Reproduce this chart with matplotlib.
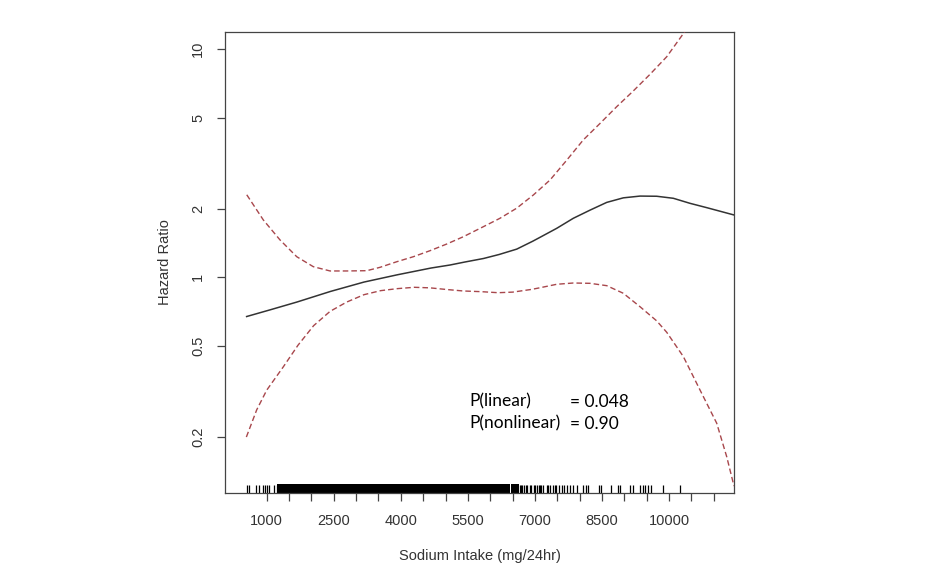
import numpy as np
import matplotlib
matplotlib.use('Agg')
import matplotlib.pyplot as plt
from matplotlib.ticker import FixedLocator, FixedFormatter, NullLocator

# =====================================================================
# DATA
# =====================================================================
# central spline estimate
hr_x = [550, 1075, 1675, 2425, 3175, 3925, 4675, 5100, 5425, 5850, 6200,
        6593, 6950, 7114, 7487, 7859, 8232, 8606, 8977, 9351, 9724, 10096,
        10469, 10843, 11454]
hr_y = [0.674, 0.721, 0.78, 0.868, 0.954, 1.027, 1.099, 1.133, 1.167, 1.21,
        1.26, 1.33, 1.44, 1.498, 1.64, 1.815, 1.97, 2.13, 2.23, 2.27, 2.266,
        2.22, 2.11, 2.02, 1.876]

# upper 95% CI
upper_x = [553, 924, 1298, 1671, 2042, 2416, 2790, 3237, 3535, 3908, 4280,
           4653, 5027, 5398, 5845, 6218, 6593, 6964, 7338, 7711, 8082, 8455,
           8829, 9200, 9575, 9948, 10342, 10450]
upper_y = [2.30, 1.784, 1.458, 1.232, 1.114, 1.067, 1.067, 1.070, 1.107,
           1.171, 1.232, 1.309, 1.40, 1.507, 1.667, 1.815, 2.01, 2.295, 2.67,
           3.26, 4.0, 4.72, 5.59, 6.55, 7.75, 9.25, 11.84, 12.6]

# lower 95% CI
lower_x = [544, 775, 1000, 1371, 1700, 2050, 2416, 2790, 3175, 3550, 3925,
           4300, 4653, 5027, 5398, 5800, 6175, 6500, 6925, 7114, 7487, 7859,
           8232, 8606, 8977, 9351, 9724, 9948, 10320, 10694, 11066, 11290,
           11453]
lower_y = [0.20, 0.263, 0.321, 0.406, 0.505, 0.615, 0.71, 0.78, 0.84, 0.875,
           0.893, 0.905, 0.90, 0.885, 0.872, 0.866, 0.857, 0.862, 0.886, 0.901,
           0.933, 0.945, 0.942, 0.92, 0.852, 0.744, 0.645, 0.575, 0.45, 0.321,
           0.23, 0.164, 0.122]

# rug of observed intakes: dense band and individual observations
rug_dense = [1300, 1400, 1500, 1600, 1700, 1800, 1900, 2000, 2100, 2200,
             2300, 2400, 2500, 2600, 2700, 2800, 2900, 3000, 3100, 3200,
             3300, 3400, 3500, 3600, 3700, 3800, 3900, 4000, 4100, 4200,
             4300, 4400, 4500, 4600, 4700, 4800, 4900, 5000, 5100, 5200,
             5300, 5400, 5500, 5600, 5700, 5800, 5900, 6000, 6100, 6200,
             6300, 6370, 6540, 6580]
rug_single = [553, 611, 761, 834, 924, 969, 1013, 1058, 1170, 1224, 1250,
              6660, 6690, 6720, 6760, 6790, 6815, 6880, 6920, 6970, 7000,
              7050, 7080, 7110, 7140, 7170, 7270, 7300, 7330, 7415, 7445,
              7480, 7540, 7600, 7650, 7720, 7785, 7860, 7950, 8080, 8140,
              8190, 8440, 8485, 8695, 8850, 8900, 9130, 9200, 9350, 9410,
              9470, 9530, 9600, 9870, 10240]

y_ticks = [0.2, 0.5, 1, 2, 5, 10]
y_tick_labels = ['0.2', '0.5', '1', '2', '5', '10']
x_ticks = list(range(1000, 11001, 500))
x_tick_labels = [str(t) if (t - 1000) % 1500 == 0 else '' for t in x_ticks]

p_labels = ['P(linear)', 'P(nonlinear)']
p_values = ['= 0.048', '= 0.90']

# =====================================================================
# PLOT
# =====================================================================
plt.rcParams['font.family'] = ['Liberation Sans', 'DejaVu Sans']
fig = plt.figure(figsize=(9.4, 5.88), dpi=100)
ax = fig.add_axes([0.2394, 0.1616, 0.5415, 0.784])

frame_col = '#444444'
ci_col = '#a8474c'

ax.plot(hr_x, hr_y, color='#333333', lw=1.1, zorder=3)
ax.plot(upper_x, upper_y, color=ci_col, lw=1.0, dashes=(4, 2.2), zorder=3)
ax.plot(lower_x, lower_y, color=ci_col, lw=1.0, dashes=(4, 2.2), zorder=3)

trans = ax.get_xaxis_transform()
ax.vlines(rug_dense, 0, 0.018, colors='black', linewidths=3.8,
          transform=trans, snap=False, antialiased=False, capstyle='butt')
ax.vlines(rug_single, 0, 0.018, colors='black', linewidths=0.9,
          transform=trans, capstyle='butt')

ax.set_yscale('log')
ax.set_xlim(67, 11454)
ax.set_ylim(0.1138, 11.87)

ax.yaxis.set_major_locator(FixedLocator(y_ticks))
ax.yaxis.set_major_formatter(FixedFormatter(y_tick_labels))
ax.yaxis.set_minor_locator(NullLocator())
ax.xaxis.set_major_locator(FixedLocator(x_ticks))
ax.xaxis.set_major_formatter(FixedFormatter(x_tick_labels))

for s in ax.spines.values():
    s.set_color(frame_col)
    s.set_linewidth(0.9)

ax.tick_params(axis='both', direction='out', length=5.8, width=0.9,
               color=frame_col, labelsize=10.5, labelcolor='#333333')
ax.tick_params(axis='y', pad=8.5)
ax.tick_params(axis='x', pad=9)
plt.setp(ax.get_yticklabels(), rotation=90, va='center', ha='right')

ax.set_ylabel('Hazard Ratio', fontsize=10.5, color='#333333')
ax.set_xlabel('Sodium Intake (mg/24hr)', fontsize=10.5, color='#333333')
ax.yaxis.set_label_coords(-0.104, 0.5)
ax.xaxis.set_label_coords(0.5, -0.121)

for i, (lab, val) in enumerate(zip(p_labels, p_values)):
    ypos = 0.198 - i * 0.048
    ax.text(0.481, ypos, lab, transform=ax.transAxes, fontsize=12.5,
            family=['Lato', 'DejaVu Sans'], va='center', ha='left', color='black')
    ax.text(0.677, ypos, val, transform=ax.transAxes, fontsize=12.5,
            family=['Lato', 'DejaVu Sans'], va='center', ha='left', color='black')

fig.savefig('out.png', dpi=100)
